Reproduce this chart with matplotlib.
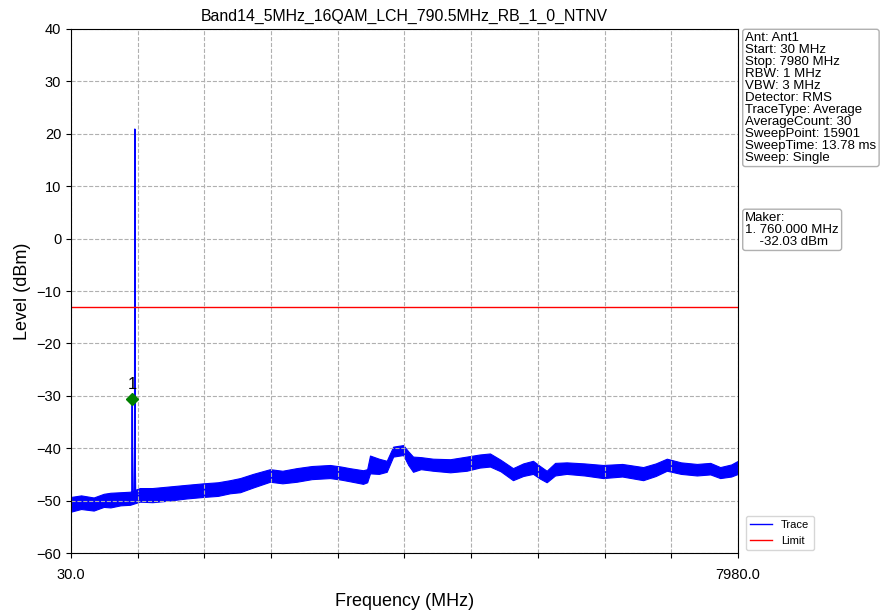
import matplotlib
matplotlib.use('Agg')
import matplotlib.pyplot as plt

plt.rcParams['font.family'] = ['Liberation Sans', 'DejaVu Sans']

title = 'Band14_5MHz_16QAM_LCH_790.5MHz_RB_1_0_NTNV'

# noise floor envelope (MHz, dBm low, dBm high)
env_freq = [30, 150, 300, 420, 500, 620, 733, 850, 1000, 1200, 1400, 1607,
            1780, 1925, 2045, 2200, 2402, 2550, 2720, 2900, 3117, 3250, 3350,
            3511, 3560, 3594, 3700, 3793, 3870, 3990, 4050, 4107, 4200, 4345,
            4550, 4746, 4900, 5024, 5150, 5298, 5420, 5537, 5620, 5700, 5800,
            5938, 6150, 6372, 6600, 6850, 7000, 7132, 7300, 7490, 7650, 7768,
            7900, 7980]
env_lo = [-52.1, -51.6, -51.9, -51.2, -51.3, -50.9, -50.8, -50.2, -50.3, -50.0,
          -49.6, -49.3, -49.1, -48.6, -48.4, -47.5, -46.4, -46.7, -46.4, -45.9,
          -45.7, -46.0, -46.3, -46.8, -46.5, -44.8, -44.9, -44.5, -41.6, -41.3,
          -43.2, -44.5, -44.0, -44.3, -44.6, -44.3, -43.7, -43.5, -44.4, -46.1,
          -45.3, -44.9, -45.8, -46.5, -45.2, -44.9, -45.2, -45.7, -45.4, -46.1,
          -45.3, -44.3, -44.9, -45.2, -45.0, -45.7, -45.4, -44.9]
env_hi = [-49.3, -49.0, -49.4, -48.7, -48.5, -48.4, -48.3, -47.6, -47.6, -47.3,
          -47.0, -46.7, -46.5, -46.1, -45.7, -44.9, -44.0, -44.3, -43.8, -43.4,
          -43.2, -43.5, -43.8, -44.2, -44.0, -41.4, -42.0, -42.4, -39.7, -39.4,
          -40.6, -41.6, -41.7, -42.0, -42.1, -41.6, -41.2, -41.0, -42.2, -43.8,
          -42.9, -42.4, -43.4, -44.3, -42.8, -42.7, -42.9, -43.2, -43.0, -43.6,
          -42.9, -42.0, -42.7, -43.0, -42.8, -43.6, -43.1, -42.4]

# carrier spike around 760-790 MHz
spike_freq = [700, 755, 760, 765, 782, 788, 790.5, 793, 800, 860]
spike_level = [-50.0, -49.5, -30.6, -49.0, -48.8, -40.0, 20.9, -40.0, -48.6, -48.5]

limit_level = -13
marker_freq = 760.0
marker_plot_level = -30.6
marker_level = -32.03

start, stop = 30, 7980

info = ['Ant: Ant1', 'Start: 30 MHz', 'Stop: 7980 MHz', 'RBW: 1 MHz', 'VBW: 3 MHz',
        'Detector: RMS', 'TraceType: Average', 'AverageCount: 30',
        'SweepPoint: 15901', 'SweepTime: 13.78 ms', 'Sweep: Single']

fig = plt.figure(figsize=(8.8, 6.14), dpi=100)
ax = fig.add_axes([0.0807, 0.0993, 0.7579, 0.8535])

ax.fill_between(env_freq, env_lo, env_hi, color='blue', lw=0.8, edgecolor='blue')
trace, = ax.plot(spike_freq, spike_level, color='blue', lw=1, label='Trace')
limit = ax.axhline(limit_level, color='red', lw=1, label='Limit')
ax.plot([marker_freq], [marker_plot_level], marker='D', color='green', ms=6)
ax.text(marker_freq, marker_plot_level + 1.3, '1', ha='center', va='bottom', fontsize=12)

ax.set_xlim(start, stop)
ax.set_ylim(-60, 40)
step = (stop - start) / 10
ax.set_xticks([start + i * step for i in range(11)])
ax.set_xticklabels(['30.0'] + [''] * 9 + ['7980.0'], fontsize=10.5)
ax.tick_params(axis='x', pad=7)
ax.set_yticks(range(-60, 41, 10))
ax.tick_params(axis='y', labelsize=10.5)
ax.grid(True, linestyle='--', color='#b0b0b0', lw=0.8)
ax.set_title(title, fontsize=11.4)
ax.set_xlabel('Frequency (MHz)', fontsize=13, labelpad=8)
ax.set_ylabel('Level (dBm)', fontsize=13)

box = dict(boxstyle='round,pad=0.2', fc='white', ec='#b0b0b0')
fig.text(0.847, 0.948, '\n'.join(info), fontsize=9.5, va='top', ha='left',
         linespacing=1.0, bbox=box)
fig.text(0.847, 0.655, 'Maker:\n1. %.3f MHz\n    %.2f dBm' % (marker_freq, marker_level),
         fontsize=9.5, va='top', ha='left', linespacing=1.0, bbox=box)

fig.legend(handles=[trace, limit], loc='lower left', bbox_to_anchor=(0.841, 0.095),
           fontsize=8, frameon=True, edgecolor='#cccccc', fancybox=True)

fig.savefig('out.png', dpi=100)
